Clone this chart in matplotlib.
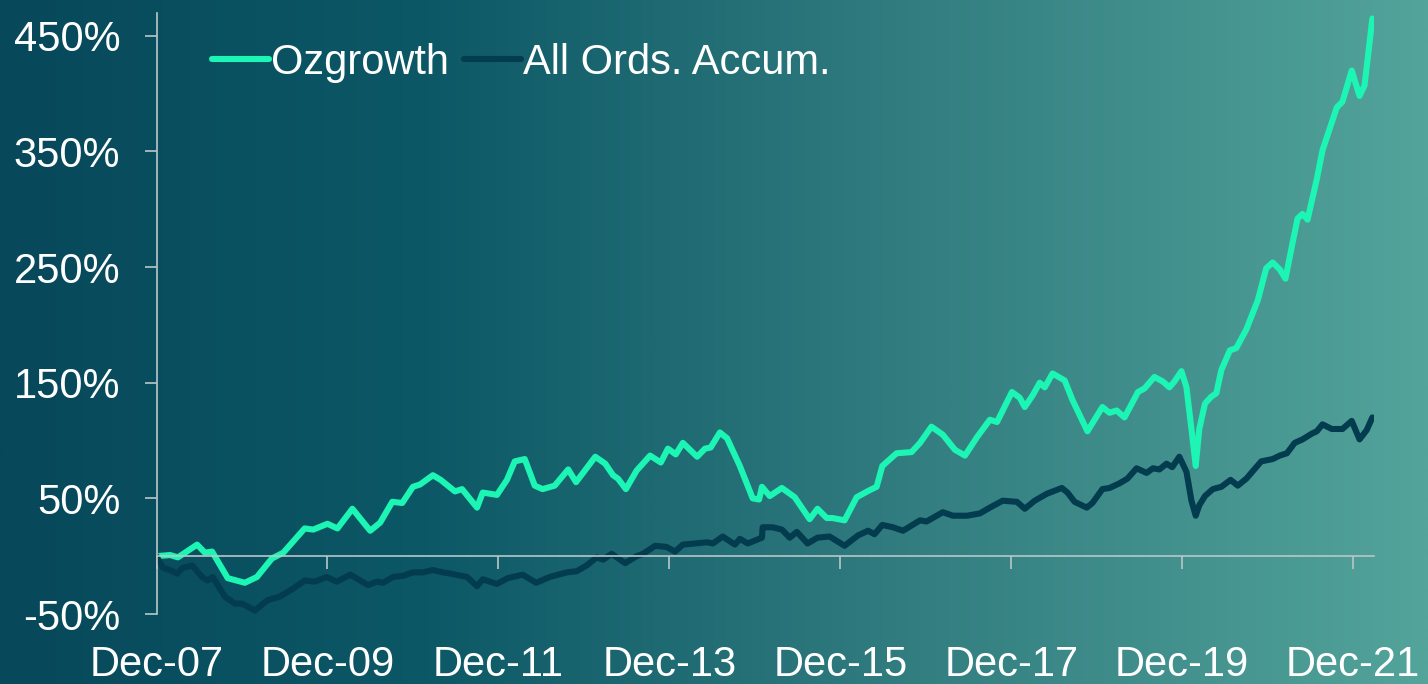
import numpy as np
import matplotlib
matplotlib.use("Agg")
import matplotlib.pyplot as plt
from matplotlib.colors import LinearSegmentedColormap

# months since Dec-07, cumulative return in %
oz_months = [0, 1.9, 3.0, 4.0, 5.7, 6.8, 7.8, 10.0, 12.4, 14.1, 16.2, 17.8, 20.8, 22.0,
             24.0, 25.4, 27.5, 30.0, 31.4, 33.1, 34.5, 36.0, 37.0, 38.8, 39.9, 41.9,
             42.9, 45.0, 45.8, 47.8, 49.2, 50.3, 51.7, 53.1, 54.2, 55.9, 57.8, 58.9,
             61.6, 63.0, 64.1, 64.8, 65.9, 67.4, 69.3, 70.8, 71.8, 72.9, 73.9, 75.9,
             77.0, 77.8, 79.1, 80.1, 81.9, 83.7, 84.6, 85.0, 86.1, 87.8, 89.6, 91.7,
             92.8, 94.1, 94.9, 96.6, 98.3, 100.1, 101.1, 101.9, 103.9, 106.0, 107.2,
             108.8, 110.4, 112.1, 113.5, 115.2, 117.0, 118.0, 120.1, 121.2, 121.9,
             123.0, 124.0, 124.7, 125.8, 127.5, 128.6, 130.7, 132.8, 133.8, 134.8,
             135.9, 137.8, 138.7, 140.1, 141.3, 142.2, 142.9, 143.9, 144.6, 145.3,
             145.9, 146.4, 147.2, 148.1, 148.8, 149.5, 150.7, 151.6, 153.0, 154.6,
             155.8, 156.7, 157.7, 158.5, 159.4, 160.2, 160.9, 161.6, 162.9, 163.7,
             165.0, 165.7, 166.5, 167.8, 168.9, 169.6, 170.0, 170.7]
oz_values = [0, 1, -1, 3, 10, 3, 4, -19, -23, -18, -2, 3, 24, 23,
             28, 24, 41, 22, 29, 47, 46, 60, 62, 70, 66, 56,
             58, 42, 55, 53, 66, 82, 84, 61, 58, 61, 75, 64,
             86, 80, 70, 67, 58, 74, 87, 81, 93, 88, 98, 86,
             93, 94, 107, 102, 78, 50, 49, 60, 52, 59, 51, 32,
             41, 33, 33, 31, 51, 57, 60, 78, 89, 90, 98,
             112, 105, 92, 87, 103, 118, 116, 142, 137, 129,
             139, 150, 146, 158, 152, 135, 108, 129, 124, 126,
             120, 142, 145, 155, 151, 146, 151, 160, 146, 110,
             78, 110, 132, 138, 141, 161, 178, 180, 196, 221,
             249, 254, 248, 240, 268, 292, 296, 291, 326, 351,
             375, 388, 393, 420, 398, 407, 428, 465]

ao_months = [0, 0.9, 1.9, 2.9, 3.7, 5.0, 6.4, 7.2, 7.9, 9.6, 11.0, 12.0, 13.8, 15.6,
             17.3, 19.2, 20.8, 22.2, 23.9, 25.3, 27.2, 29.7, 31.0, 31.8, 33.2, 34.6,
             36.0, 37.4, 38.8, 40.2, 41.2, 43.6, 45.0, 45.8, 47.8, 49.3, 51.4, 53.3,
             55.2, 57.6, 59.0, 60.4, 61.8, 62.7, 63.9, 65.8, 67.4, 68.3, 70.0, 71.6,
             72.8, 73.9, 75.6, 77.3, 78.1, 79.5, 81.2, 81.9, 83.0, 85.0, 85.1, 86.5,
             87.8, 88.9, 89.9, 91.4, 92.8, 94.5, 96.6, 98.5, 99.9, 100.8, 101.9, 103.4,
             104.8, 107.2, 108.1, 110.4, 111.8, 113.8, 115.6, 117.0, 118.8, 120.8,
             121.9, 123.3, 125.0, 127.1, 127.9, 128.9, 130.6, 131.4, 132.8, 133.8,
             135.2, 136.3, 137.6, 139.0, 139.9, 140.8, 141.8, 142.6, 143.6, 144.6,
             145.3, 145.9, 146.4, 147.2, 148.3, 149.5, 150.8, 151.8, 153.0, 155.1,
             156.7, 157.7, 158.7, 159.8, 160.9, 162.2, 162.9, 163.7, 165.0, 166.5,
             167.8, 168.9, 169.9, 170.7]
ao_values = [0, -10, -12, -15, -10, -8, -18, -21, -18, -35, -41, -41, -47, -38,
             -35, -28, -21, -22, -18, -22, -16, -25, -22, -23, -18, -17,
             -14, -14, -12, -14, -15, -18, -26, -20, -24, -19, -16, -23,
             -18, -14, -13, -8, -1, -3, 2, -6, 0, 2, 9, 8,
             4, 10, 11, 12, 11, 17, 10, 15, 11, 16, 25, 25,
             23, 16, 21, 11, 16, 17, 9, 18, 22, 19, 27, 25,
             22, 31, 30, 38, 35, 35, 37, 42, 48, 47,
             41, 48, 54, 59, 55, 47, 42, 46, 58, 59,
             63, 67, 76, 72, 76, 75, 80, 77, 86, 73,
             48, 35, 44, 52, 58, 60, 66, 61, 67, 82,
             84, 87, 89, 98, 101, 106, 108, 114, 110, 110,
             117, 101, 109, 120]

x_ticks = [0, 24, 48, 72, 96, 120, 144, 168]
x_labels = ["Dec-07", "Dec-09", "Dec-11", "Dec-13", "Dec-15", "Dec-17", "Dec-19", "Dec-21"]
y_ticks = [-50, 50, 150, 250, 350, 450]

oz_color = "#1cf5b4"
ao_color = "#043c4f"
axis_color = "#b9c7c8"

plt.rcParams["font.family"] = ["Liberation Sans", "DejaVu Sans"]

fig = plt.figure(figsize=(14.28, 6.84), dpi=100)

# gradient background
bg = fig.add_axes([0, 0, 1, 1], zorder=-10)
cmap = LinearSegmentedColormap.from_list(
    "bg", [(0.0, "#07485a"), (0.3, "#0c5866"), (0.6, "#2e797d"), (1.0, "#53a49b")])
bg.imshow(np.linspace(0, 1, 512)[None, :], aspect="auto", cmap=cmap,
          extent=[0, 1, 0, 1])
bg.axis("off")

ax = fig.add_axes([156.5 / 1428, 1 - 614 / 684, 1218 / 1428, (614 - 12.7) / 684])
ax.set_facecolor("none")

ax.plot(oz_months, oz_values, color=oz_color, lw=4.4, label="Ozgrowth",
        solid_joinstyle="round", solid_capstyle="round")
ax.plot(ao_months, ao_values, color=ao_color, lw=4.4, label="All Ords. Accum.",
        solid_joinstyle="round", solid_capstyle="round")

ax.set_xlim(0, 171)
ax.set_ylim(-50, 470)

for s in ["top", "right"]:
    ax.spines[s].set_visible(False)
ax.spines["bottom"].set_position(("data", 0))
ax.spines["bottom"].set_color(axis_color)
ax.spines["left"].set_color(axis_color)
ax.spines["bottom"].set_linewidth(1.2)
ax.spines["left"].set_linewidth(1.2)

ax.set_xticks(x_ticks)
ax.set_xticklabels(x_labels)
ax.set_yticks(y_ticks)
ax.set_yticklabels([f"{v}%" for v in y_ticks])
ax.tick_params(axis="x", direction="out", length=9, width=1.2, color=axis_color,
               pad=55, labelsize=30, labelcolor="white")
ax.tick_params(axis="y", direction="out", length=9, width=1.2, color=axis_color,
               pad=17, labelsize=30, labelcolor="white")

leg = ax.legend(loc="center left", bbox_to_anchor=(212 / 1428, 1 - 63 / 684),
                bbox_transform=fig.transFigure, ncol=2, frameon=False,
                fontsize=30, handlelength=1.37, handletextpad=0.05,
                columnspacing=0.36, borderpad=0, borderaxespad=0)
for t in leg.get_texts():
    t.set_color("white")

fig.savefig("out.png", dpi=100)
